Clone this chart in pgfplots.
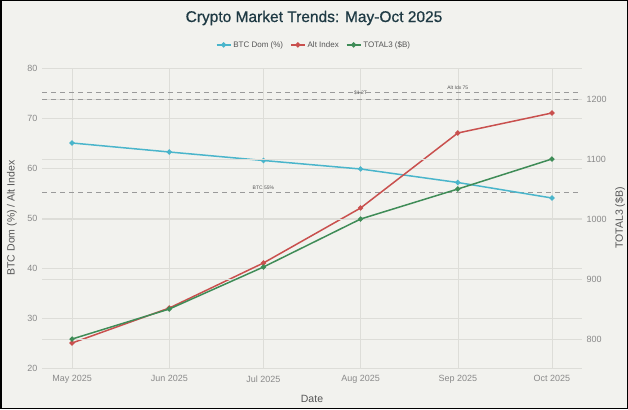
\documentclass[border=0pt]{standalone}
\usepackage{fontspec}
\setmainfont{Liberation Sans}
\usepackage{pgfplots}
\pgfplotsset{compat=1.18}
\definecolor{bg}{HTML}{F2F2EE}
\definecolor{gridc}{HTML}{DDDDD8}
\definecolor{btc}{HTML}{4AB5CB}
\definecolor{alt}{HTML}{C9504E}
\definecolor{tot}{HTML}{3F8C57}
\definecolor{tickc}{HTML}{8A8A8A}
\definecolor{labc}{HTML}{555555}
\definecolor{ttl}{HTML}{1F3A44}
\definecolor{dashc}{HTML}{9A9A9A}

\pgfplotsset{
  common/.style={
    at={(42pt,41pt)}, anchor=south west,
    width=540pt, height=300pt, scale only axis,
    xmin=-9.6, xmax=162.6,
    axis line style={draw=none},
    tick style={draw=none},
    grid style={gridc, line width=0.6pt},
    ticklabel style={font=\fontsize{9}{10}\selectfont, text=tickc},
    /pgf/number format/assume math mode=true,
    /pgf/number format/1000 sep={},
    label style={font=\fontsize{10.5}{12}\selectfont, text=labc},
  },
}

\begin{document}
\begin{tikzpicture}[x=1pt,y=1pt]
\fill[bg] (0,0) rectangle (628,409);
\useasboundingbox (0,0) rectangle (628,409);
\node[font=\fontsize{15.5}{18}\selectfont\addfontfeature{FakeBold=0.7}, text=ttl] at (314,391) {Crypto Market Trends: May-Oct 2025};

% left axis
\begin{axis}[common,
  ymin=20, ymax=80, ytick={20,30,40,50,60,70,80},
  xtick={0,31,61,92,123,153},
  xticklabels={May 2025,Jun 2025,Jul 2025,Aug 2025,Sep 2025,Oct 2025},
  xmajorgrids, ymajorgrids,
  xticklabel style={yshift=-4pt},
  yticklabel style={xshift=-1pt},
  xlabel={Date},
  ylabel={BTC Dom (\%) / Alt Index},
  xlabel style={at={(axis description cs:0.5,-0.1033)}, anchor=center},
  ylabel style={at={(axis description cs:-0.0556,0.5)}, anchor=center},
  legend style={at={(axis description cs:0.5037,1.077)}, anchor=center,
    legend columns=3, draw=none, fill=none,
    font=\fontsize{8}{9}\selectfont, text=labc,
    /tikz/every even column/.append style={column sep=5pt}},
  legend image code/.code={%
    \draw[#1] (0pt,0pt) -- (14pt,0pt);
    \draw[#1, only marks] plot coordinates {(7pt,0pt)};},
]
\addplot[dashc, dash pattern=on 5pt off 4pt, line width=1pt, forget plot] coordinates {(-9.6,75) (162.6,75)};
\addplot[dashc, dash pattern=on 5pt off 4pt, line width=1pt, forget plot] coordinates {(-9.6,55) (162.6,55)};
\addplot[btc, line width=1.5pt, mark=*, mark size=1.8pt] coordinates {
  (0,65) (31,63.2) (61,61.5) (92,59.8) (123,57.1) (153,54)};
\addlegendentry{BTC Dom (\%)}
\addplot[alt, line width=1.5pt, mark=*, mark size=1.8pt] coordinates {
  (0,25) (31,32) (61,41) (92,52) (123,67) (153,71)};
\addlegendentry{Alt Index}
\addlegendimage{tot, line width=1.5pt, mark=*, mark size=1.8pt}
\addlegendentry{TOTAL3 (\$B)}
\node[font=\fontsize{5}{6}\selectfont, text=labc] at (axis cs:61,56) {BTC 55\%};
\node[font=\fontsize{5}{6}\selectfont, text=labc] at (axis cs:123,76) {Alt Idx 75};
\end{axis}

% right axis
\begin{axis}[common,
  ymin=751.7, ymax=1251.7, ytick={800,900,1000,1100,1200},
  axis x line=none, axis y line*=right,
  ymajorgrids,
  yticklabel style={xshift=1pt},
  ylabel={TOTAL3 (\$B)},
  ylabel style={at={(axis description cs:1.0704,0.5)}, anchor=center},
]
\addplot[dashc, dash pattern=on 5pt off 4pt, line width=1pt, forget plot] coordinates {(-9.6,1200) (162.6,1200)};
\addplot[tot, line width=1.5pt, mark=*, mark size=1.8pt] coordinates {
  (0,800) (31,850) (61,920) (92,1000) (123,1050) (153,1100)};
\node[font=\fontsize{5}{6}\selectfont, text=labc] at (axis cs:92,1210) {\$1.2T};
\end{axis}
\draw[black,line width=1.5pt] (0.75,0.75) rectangle (627.25,408.25);
\end{tikzpicture}
\end{document}
